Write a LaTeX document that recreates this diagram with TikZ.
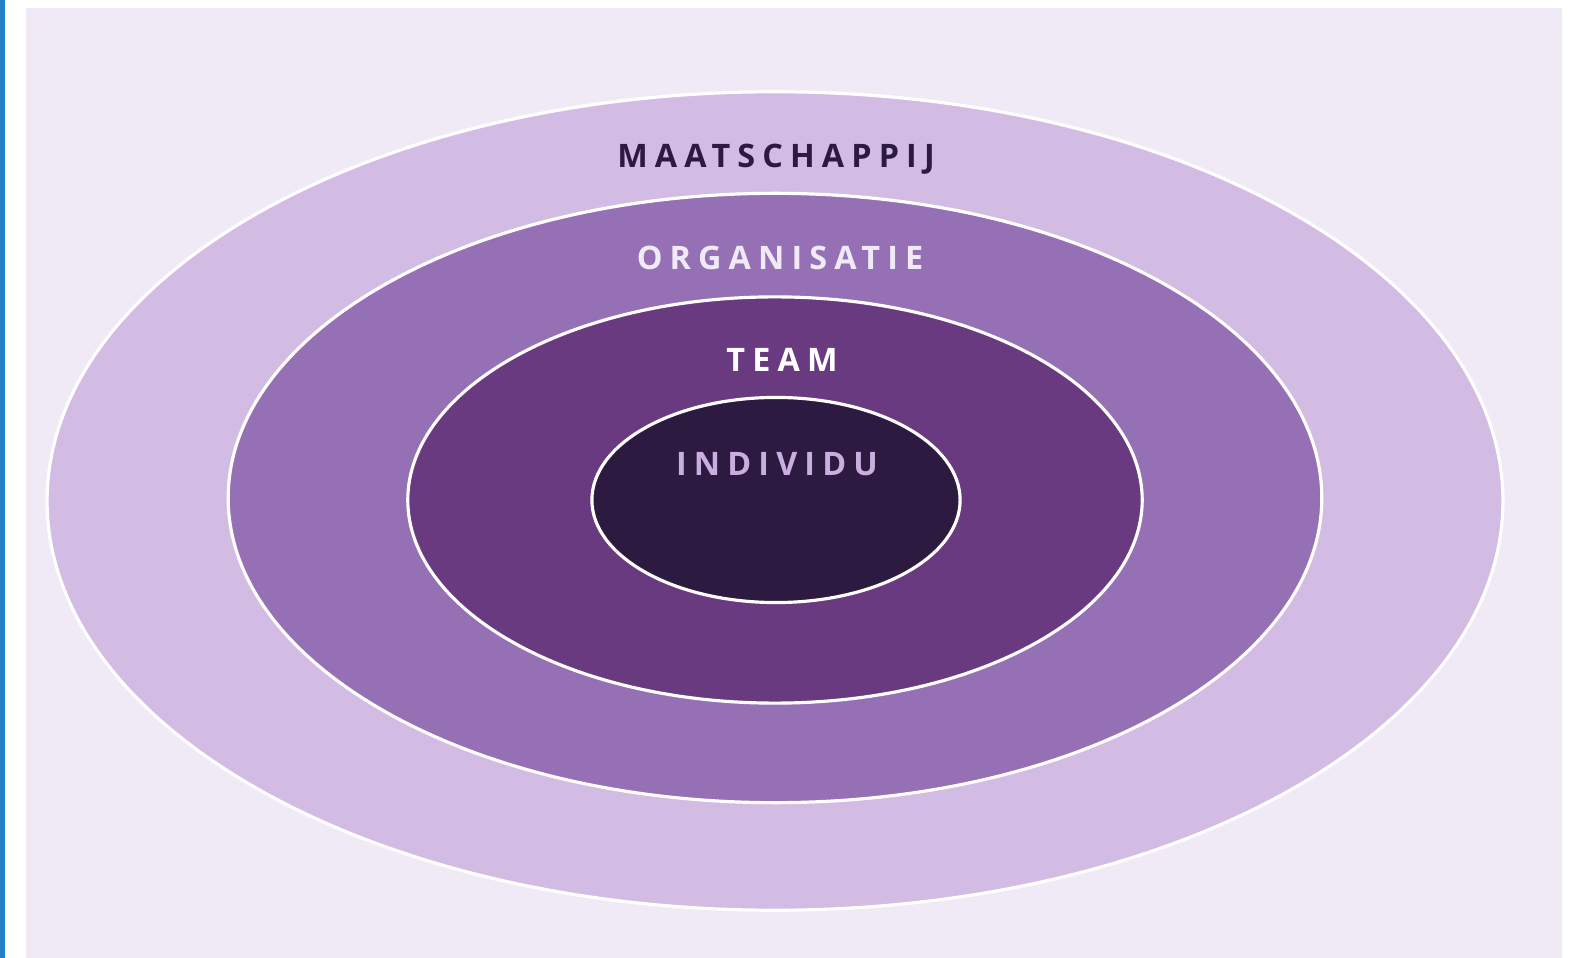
\documentclass[tikz,border=0pt]{standalone}
\usepackage{fontspec}
\setmainfont{Open Sans}
\newfontfamily\ringfont[LetterSpace=22]{Open Sans}
\usetikzlibrary{shapes.geometric, positioning}

\definecolor{sidebar}{HTML}{2180C8}
\definecolor{panel}{HTML}{F0EAF6}
\definecolor{ringA}{HTML}{D3BCE3}
\definecolor{ringB}{HTML}{9670B5}
\definecolor{ringC}{HTML}{6A3A80}
\definecolor{ringD}{HTML}{2D1A40}
\definecolor{lavtext}{HTML}{C9AEE0}

\tikzset{
    ring/.style={draw=white, line width=0.9pt, ellipse, inner sep=0pt},
    ringlabel/.style={anchor=base, inner sep=0pt, font=\ringfont\bfseries\fontsize{9.2}{11}\selectfont}
}

\begin{document}
\begin{tikzpicture}[x=0.01cm, y=-0.01cm]
    \useasboundingbox (0,0) rectangle (1575,958);
    \fill[sidebar] (0,0) rectangle (5,958);
    \fill[panel] (26,8) rectangle (1562,958);

    % rings, outer to inner
    \node[ring, fill=ringA, minimum width=14.55cm, minimum height=8.18cm] (maatschappij) at (775,501) {};
    \node[ring, fill=ringB, minimum width=10.93cm, minimum height=6.09cm] (organisatie) at (775,498) {};
    \node[ring, fill=ringC, minimum width=7.34cm, minimum height=4.06cm] (team) at (775,500) {};
    \node[ring, fill=ringD, minimum width=3.68cm, minimum height=2.05cm] (individu) at (776,500) {};

    % labels
    \node[ringlabel, text=ringD] (maatschappijtext) at (776,168) {MAATSCHAPPIJ};
    \node[ringlabel, text=panel] (organisatietext) at (780,270) {ORGANISATIE};
    \node[ringlabel, text=white] (teamtext) at (782,372) {TEAM};
    \node[ringlabel, text=lavtext] (individutext) at (777,476) {INDIVIDU};
\end{tikzpicture}
\end{document}
